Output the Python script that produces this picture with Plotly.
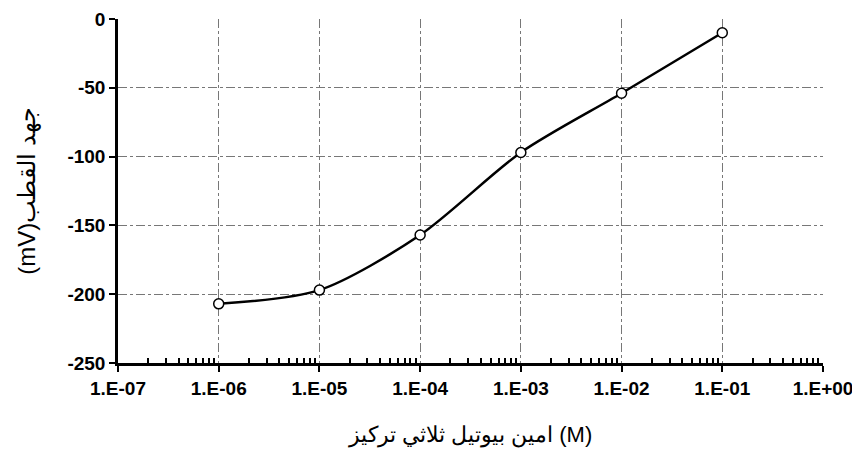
import plotly.graph_objects as go

concentration = [1e-6, 1e-5, 1e-4, 1e-3, 1e-2, 1e-1]
potential_mv = [-207, -197, -157, -97, -54, -10]

x_tick_vals = [1e-7, 1e-6, 1e-5, 1e-4, 1e-3, 1e-2, 1e-1, 1e0]
x_tick_text = ["1.E-07", "1.E-06", "1.E-05", "1.E-04", "1.E-03", "1.E-02", "1.E-01", "1.E+00"]
y_tick_vals = [0, -50, -100, -150, -200, -250]
y_tick_text = ["0", "-50", "-100", "-150", "-200", "-250"]

x_title = "امين بيوتيل ثلاثي تركيز (M)"
y_title = "(mV)جهد القطب"

minor_vals = [m * d for d in x_tick_vals[:-1] for m in range(2, 10)]

fig = go.Figure()
fig.add_trace(go.Scatter(
    x=concentration, y=potential_mv, mode="lines+markers",
    line=dict(color="black", width=2.5, shape="spline", smoothing=0.8),
    marker=dict(symbol="circle", size=10, color="white", line=dict(color="black", width=1.5)),
    showlegend=False,
))

FONT = "Liberation Sans, Arial, sans-serif"
tick_font = dict(family=FONT, size=19, color="black", weight="bold")

fig.update_layout(
    width=860, height=457,
    margin=dict(l=110, r=45, t=11, b=102),
    paper_bgcolor="white", plot_bgcolor="white",
    xaxis=dict(
        type="log", range=[-7, 0], automargin=False, ticklabeloverflow="allow",
        tickmode="array", tickvals=x_tick_vals, ticktext=[f"<b>{t}</b>" for t in x_tick_text],
        tickfont=tick_font,
        ticks="outside", ticklen=6, tickwidth=2, tickcolor="black",
        showline=True, linecolor="black", linewidth=2.5,
        showgrid=True, gridcolor="#777", gridwidth=1, griddash="dashdot",
        minor=dict(tickmode="array", tickvals=minor_vals, ticks="inside", ticklen=5,
                   tickwidth=1.5, tickcolor="black", showgrid=False),
        title=dict(text=x_title, font=dict(family=FONT, size=22, color="black"), standoff=30),
        zeroline=False,
    ),
    yaxis=dict(
        range=[-250, 0], automargin=False, ticklabeloverflow="allow",
        tickmode="array", tickvals=y_tick_vals, ticktext=[f"<b>{t}</b>" for t in y_tick_text],
        tickfont=tick_font,
        ticks="outside", ticklen=6, tickwidth=2, tickcolor="black",
        showline=True, linecolor="black", linewidth=2.5,
        showgrid=True, gridcolor="#777", gridwidth=1, griddash="dashdot",
        title=dict(text=y_title, font=dict(family=FONT, size=24, color="black"), standoff=26),
        zeroline=False,
    ),
)

fig.write_html("out.html")
